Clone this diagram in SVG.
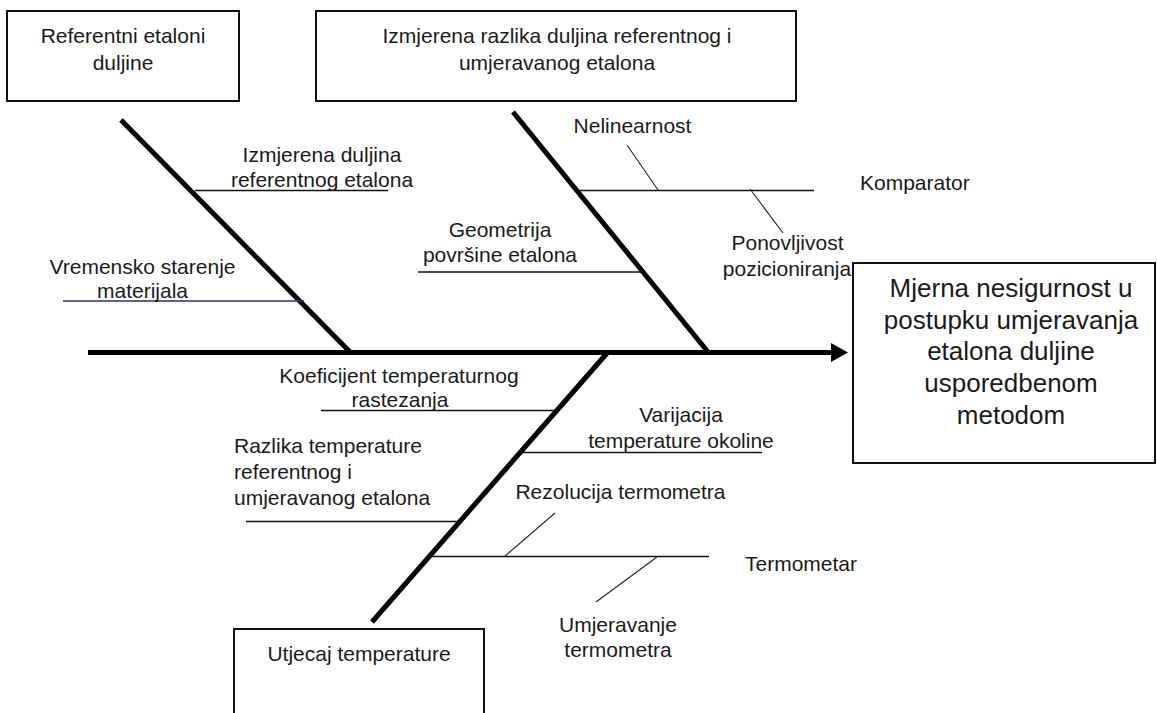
<svg xmlns="http://www.w3.org/2000/svg" width="1157" height="713" viewBox="0 0 1157 713">
<style>
  .box { fill: #fff; stroke: #111; stroke-width: 2; }
  .t { font-family: "Liberation Sans", Arial, sans-serif; font-size: 21px; fill: #1a1a1a; }
  .c { text-anchor: middle; }
  .big { font-family: "Liberation Sans", Arial, sans-serif; font-size: 26px; fill: #1a1a1a; text-anchor: middle; }
  .bone { stroke: #000; stroke-width: 5; fill: none; stroke-linecap: butt; }
  .sub { stroke: #111; stroke-width: 1.5; fill: none; }
  .tick { stroke: #222; stroke-width: 1.1; fill: none; }
</style>
<rect width="1157" height="713" fill="#fff"/>

<g id="connectors">
  <line class="bone" x1="88" y1="352.5" x2="834" y2="352.5"/>
  <polygon points="831,343 848,352.5 831,362" fill="#000"/>
  <line class="bone" x1="121" y1="120" x2="350" y2="352"/>
  <line class="bone" x1="513" y1="112" x2="708" y2="352"/>
  <line class="bone" x1="372" y1="622" x2="608" y2="352"/>
  <line class="sub" x1="195" y1="190.5" x2="388" y2="190.5"/>
  <line x1="63" y1="301" x2="304" y2="301" stroke="#2a2a85" stroke-width="1.5"/>
  <line class="sub" x1="580" y1="190.5" x2="814" y2="190.5"/>
  <line class="tick" x1="627" y1="145" x2="658" y2="190"/>
  <line class="tick" x1="750" y1="189" x2="783" y2="233"/>
  <line class="sub" x1="418" y1="272" x2="642" y2="272"/>
  <line class="sub" x1="321" y1="410.5" x2="557" y2="410.5"/>
  <line class="sub" x1="246" y1="521.5" x2="460" y2="521.5"/>
  <line class="sub" x1="522" y1="452.5" x2="762" y2="452.5"/>
  <line class="sub" x1="431" y1="556.5" x2="709" y2="556.5"/>
  <line class="tick" x1="555" y1="513" x2="505" y2="556"/>
  <line class="tick" x1="657" y1="557" x2="596" y2="602"/>
</g>

<g id="box-referentni">
  <rect class="box" x="7" y="11" width="232" height="90"/>
  <text class="t c" x="123" y="43">Referentni etaloni</text>
  <text class="t c" x="123" y="70">duljine</text>
</g>
<g id="box-izmjerena-razlika">
  <rect class="box" x="316" y="11" width="480" height="90"/>
  <text class="t c" x="557" y="43">Izmjerena razlika duljina referentnog i</text>
  <text class="t c" x="557" y="70">umjeravanog etalona</text>
</g>
<g id="box-mjerna-nesigurnost">
  <rect class="box" x="853" y="263" width="302" height="200"/>
  <text class="big" x="1011" y="297">Mjerna nesigurnost u</text>
  <text class="big" x="1011" y="329">postupku umjeravanja</text>
  <text class="big" x="1011" y="360">etalona duljine</text>
  <text class="big" x="1011" y="392">usporedbenom</text>
  <text class="big" x="1011" y="424">metodom</text>
</g>
<g id="box-utjecaj">
  <rect class="box" x="234" y="629" width="250" height="100"/>
  <text class="t c" x="359" y="661">Utjecaj temperature</text>
</g>

<g id="label-izmjerena-duljina">
  <text class="t c" x="322" y="162">Izmjerena duljina</text>
  <text class="t c" x="322" y="187">referentnog etalona</text>
</g>
<g id="label-vremensko">
  <text class="t c" x="142.5" y="274">Vremensko starenje</text>
  <text class="t c" x="142.5" y="298">materijala</text>
</g>
<g id="label-geometrija">
  <text class="t c" x="500" y="237">Geometrija</text>
  <text class="t c" x="500" y="262">površine etalona</text>
</g>
<g id="label-nelinearnost">
  <text class="t c" x="632.5" y="133">Nelinearnost</text>
</g>
<g id="label-komparator">
  <text class="t" x="860" y="190">Komparator</text>
</g>
<g id="label-ponovljivost">
  <text class="t c" x="787.5" y="250">Ponovljivost</text>
  <text class="t c" x="787" y="276">pozicioniranja</text>
</g>
<g id="label-koeficijent">
  <text class="t c" x="399" y="383">Koeficijent temperaturnog</text>
  <text class="t c" x="400" y="407">rastezanja</text>
</g>
<g id="label-razlika">
  <text class="t" x="234" y="453">Razlika temperature</text>
  <text class="t" x="234" y="479">referentnog i</text>
  <text class="t" x="234" y="505">umjeravanog etalona</text>
</g>
<g id="label-varijacija">
  <text class="t c" x="681" y="422">Varijacija</text>
  <text class="t c" x="681" y="448">temperature okoline</text>
</g>
<g id="label-rezolucija">
  <text class="t c" x="620.5" y="499">Rezolucija termometra</text>
</g>
<g id="label-termometar">
  <text class="t" x="745" y="571">Termometar</text>
</g>
<g id="label-umjeravanje">
  <text class="t c" x="618" y="632">Umjeravanje</text>
  <text class="t c" x="618" y="657">termometra</text>
</g>
</svg>
